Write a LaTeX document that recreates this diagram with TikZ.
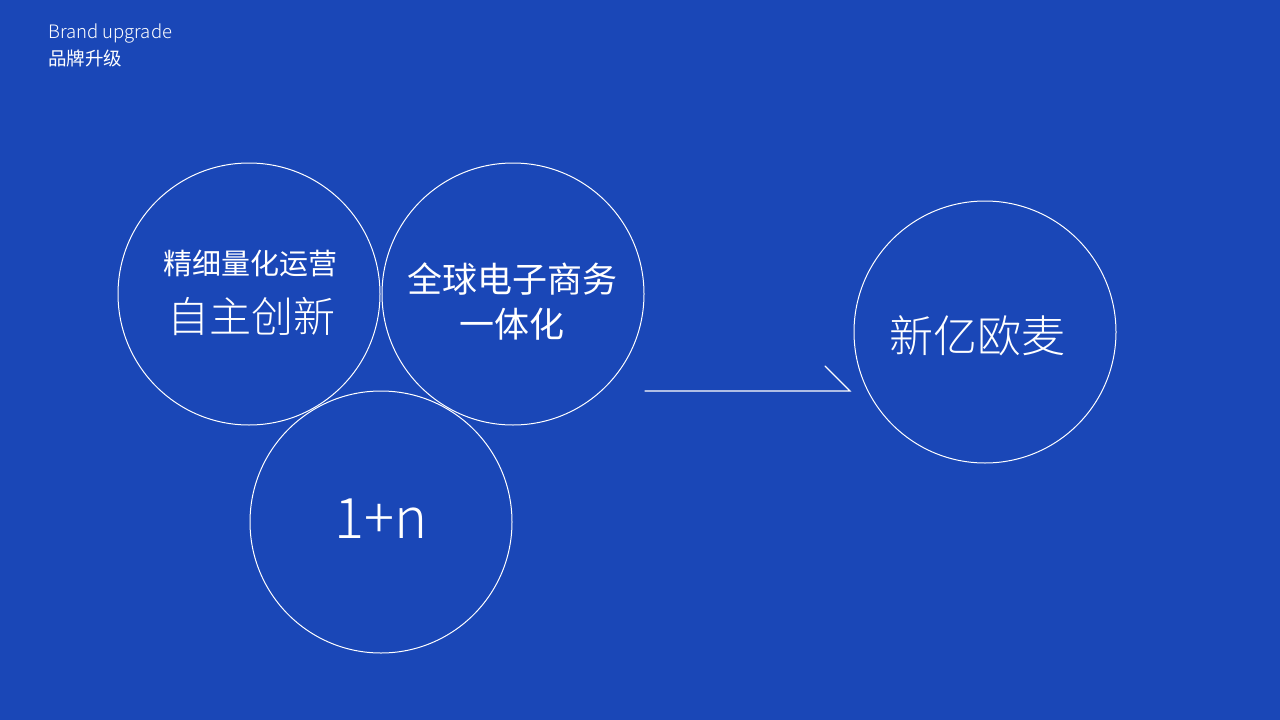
\documentclass[tikz,border=0pt]{standalone}
\usepackage{fontspec}
\setmainfont{Noto Sans CJK SC}
\newfontfamily\lightfont{Noto Sans CJK SC Light}
\definecolor{bgblue}{HTML}{1A47B7}

\begin{document}
\begin{tikzpicture}[x=1pt, y=-1pt,
  ring/.style={circle, draw=white, line width=1pt, minimum size=262pt, inner sep=0pt, outer sep=0pt},
  label/.style={text=white, inner sep=0pt},
  link/.style={draw=white, line width=1.2pt, line cap=round, line join=miter}]
\useasboundingbox (0,0) rectangle (1280,720);
\fill[bgblue] (0,0) rectangle (1280,720);

% header
\node[label, anchor=west, font=\lightfont\fontsize{18.5}{18.5}\selectfont] (brand) at (48,33) {Brand upgrade};
\node[label, anchor=west, font=\fontsize{18.5}{18.5}\selectfont] (brandcn) at (48,58) {品牌升级};

% circles
\node[ring] (left) at (249,294) {};
\node[ring] (right) at (513,294) {};
\node[ring] (bottom) at (381,522) {};
\node[ring] (brandnew) at (985,332) {};

% texts
\node[label, font=\fontsize{29}{29}\selectfont] (ops) at (250,263) {精细量化运营};
\node[label, font=\lightfont\fontsize{42}{42}\selectfont] (innov) at (251,317) {自主创新};
\node[label, font=\fontsize{35}{35}\selectfont] (ecom) at (512,279) {全球电子商务};
\node[label, font=\fontsize{35}{35}\selectfont] (unity) at (512,324) {一体化};
\node[label, font=\lightfont\fontsize{56}{56}\selectfont] (onen) at (381,519) {1+n};
\node[label, font=\lightfont\fontsize{44}{44}\selectfont] (newname) at (977,336) {新亿欧麦};

% arrow
\coordinate (tail) at (645,391);
\coordinate (tip) at (850,391);
\coordinate (barb) at (825,366);
\draw[link] (tail) -- (tip) -- (barb);
\end{tikzpicture}
\end{document}
